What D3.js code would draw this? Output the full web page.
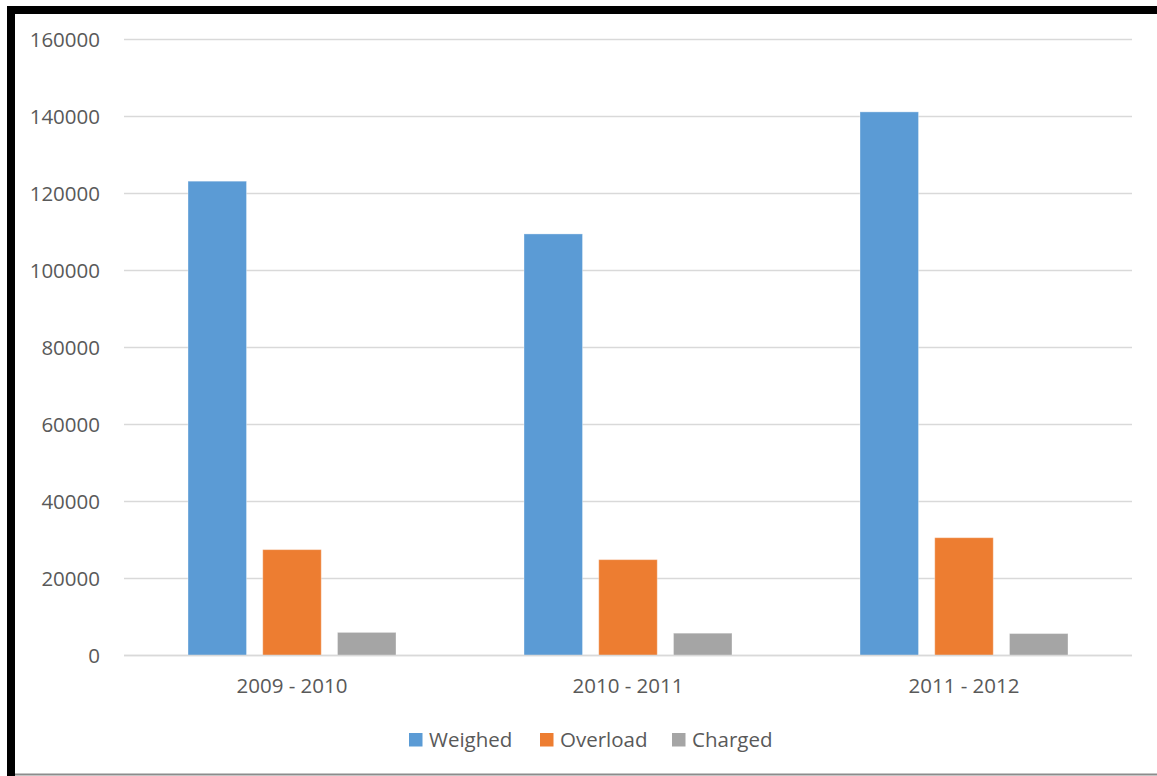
<!DOCTYPE html>
<html>
<head>
<meta charset="utf-8">
<script src="https://cdn.jsdelivr.net/npm/d3@7"></script>
<style>
  html, body { margin: 0; padding: 0; background: #ffffff; }
  svg { display: block; }
  text { font-family: "Open Sans", "Liberation Sans", sans-serif; fill: #595959; }
</style>
</head>
<body>
<svg id="chart" width="1157" height="776"></svg>
<script>
// Seasons on the x axis
const categories = ["2009 - 2010", "2010 - 2011", "2011 - 2012"];
// Series names, in legend order
const seriesNames = ["Weighed", "Overload", "Charged"];
// Values per series, one per season
const weighed  = [123200, 109500, 141200];
const overload = [27500, 24900, 30600];
const charged  = [6000, 5800, 5700];
const yTicks = [0, 20000, 40000, 60000, 80000, 100000, 120000, 140000, 160000];
const seriesColors = ["#5b9bd5", "#ed7d31", "#a5a5a5"];

const seriesValues = [weighed, overload, charged];
const rows = categories.map((c, i) => ({
  category: c,
  values: seriesNames.map((s, j) => ({ series: s, value: seriesValues[j][i] }))
}));

const svg = d3.select("#chart");
const W = 1157, H = 776;
const FONT = "20.5px";

// Outer frame: heavy black on left and top, thin grey line along the bottom
svg.append("rect").attr("x", 0).attr("y", 0).attr("width", W).attr("height", H).attr("fill", "#fff");
svg.append("rect").attr("x", 7).attr("y", 6).attr("width", 8).attr("height", H - 6).attr("fill", "#000");
svg.append("rect").attr("x", 7).attr("y", 6).attr("width", W - 7).attr("height", 8).attr("fill", "#000");
svg.append("rect").attr("x", 15).attr("y", 773.5).attr("width", W - 15).attr("height", 2).attr("fill", "#8c8c8c");

const plot = { left: 124, right: 1132, top: 39.5, bottom: 655.5 };

const y = d3.scaleLinear().domain([0, 160000]).range([plot.bottom, plot.top]);
const x0 = d3.scaleBand().domain(categories).range([plot.left, plot.right]).padding(0);
const groupInset = x0.bandwidth() * (64 / 336);
const x1 = d3.scaleBand().domain(seriesNames)
  .range([groupInset, x0.bandwidth() - groupInset])
  .paddingInner(0.217).paddingOuter(0);
const color = d3.scaleOrdinal().domain(seriesNames).range(seriesColors);

// Horizontal gridlines
svg.append("g")
  .selectAll("line")
  .data(yTicks)
  .join("line")
  .attr("x1", plot.left).attr("x2", plot.right)
  .attr("y1", d => y(d)).attr("y2", d => y(d))
  .attr("stroke", "#d9d9d9")
  .attr("stroke-width", 1.5);

// Y axis labels
const yAxis = d3.axisLeft(y).tickValues(yTicks).tickSize(0).tickPadding(0).tickFormat(d3.format("d"));
const yAxisG = svg.append("g").attr("transform", `translate(100,0)`).call(yAxis);
yAxisG.select(".domain").remove();
yAxisG.selectAll("text")
  .attr("font-size", FONT)
  .attr("fill", "#595959")
  .style("font-family", "'Open Sans', 'Liberation Sans', sans-serif");

// Bars
const groups = svg.append("g")
  .selectAll("g")
  .data(rows)
  .join("g")
  .attr("transform", d => `translate(${x0(d.category)},0)`);

groups.selectAll("rect")
  .data(d => d.values)
  .join("rect")
  .attr("x", d => x1(d.series))
  .attr("y", d => y(d.value))
  .attr("width", x1.bandwidth())
  .attr("height", d => y(0) - y(d.value))
  .attr("fill", d => color(d.series))
  .attr("stroke", "rgba(255,255,255,0.35)")
  .attr("stroke-width", 1);

// Baseline
svg.append("line")
  .attr("x1", plot.left).attr("x2", plot.right)
  .attr("y1", y(0)).attr("y2", y(0))
  .attr("stroke", "#d9d9d9").attr("stroke-width", 1.5);

// Category labels
const xAxis = d3.axisBottom(x0).tickSize(0).tickPadding(0);
const xAxisG = svg.append("g").attr("transform", `translate(0,${plot.bottom + 23})`).call(xAxis);
xAxisG.select(".domain").remove();
xAxisG.selectAll("text")
  .attr("font-size", FONT)
  .attr("fill", "#595959")
  .attr("dy", "0.71em")
  .style("font-family", "'Open Sans', 'Liberation Sans', sans-serif");

// Legend
const legendX = [409, 540, 672];
const legend = svg.append("g")
  .selectAll("g")
  .data(seriesNames)
  .join("g")
  .attr("transform", (d, i) => `translate(${legendX[i]},733)`);
legend.append("rect")
  .attr("width", 13.5).attr("height", 13.5)
  .attr("fill", d => color(d));
legend.append("text")
  .attr("x", 20).attr("y", 14)
  .attr("font-size", FONT)
  .text(d => d);
</script>
</body>
</html>
